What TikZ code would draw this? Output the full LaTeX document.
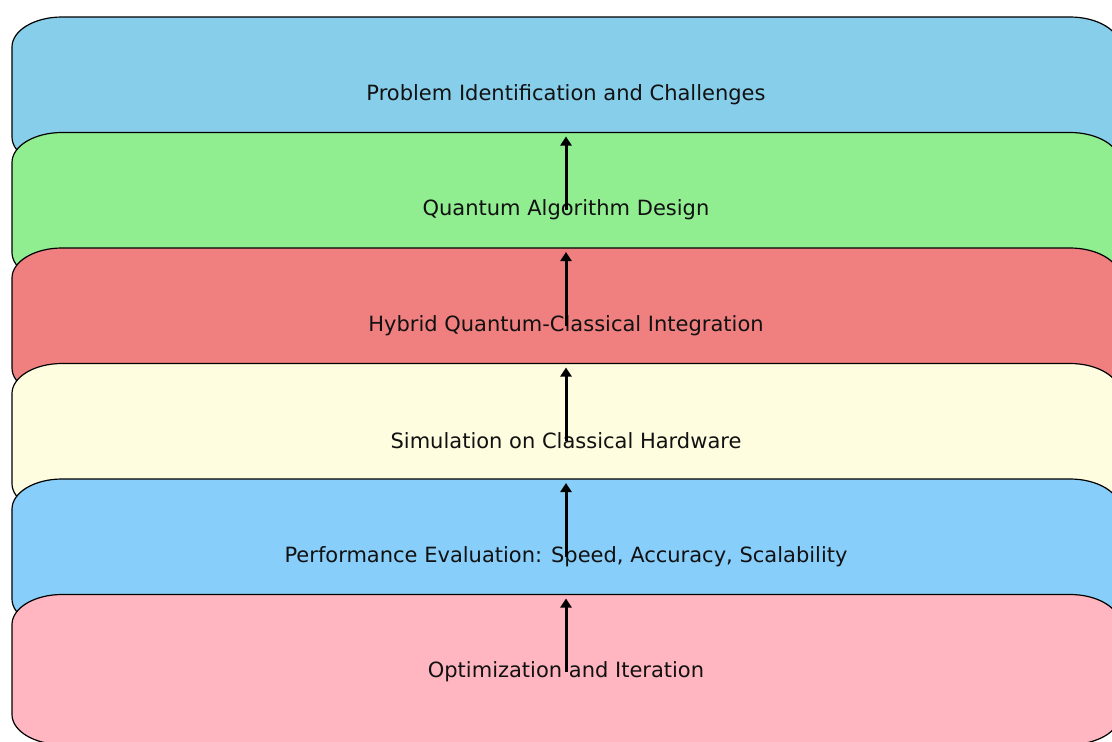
\documentclass[tikz,border=0pt]{standalone}
\usepackage{fontspec}
\setmainfont{DejaVu Sans}
\usetikzlibrary{arrows.meta,calc}
\definecolor{cskyblue}{HTML}{87CEEB}
\definecolor{clightgreen}{HTML}{90EE90}
\definecolor{clightcoral}{HTML}{F08080}
\definecolor{clightyellow}{HTML}{FFFDE0}
\definecolor{clightskyblue}{HTML}{87CEFA}
\definecolor{clightpink}{HTML}{FFB6C1}
\definecolor{ctext}{HTML}{111111}
\tikzset{
  boxframe/.style={draw=none,minimum width=1108pt,minimum height=150pt,inner sep=0pt,outer sep=0pt},
  boxline/.style={draw=black,line width=1.2pt},
  boxlabel/.style={text=ctext,font=\fontsize{21pt}{24pt}\selectfont,inner sep=0pt},
  uparrow/.style={-{Triangle[width=11pt,length=9pt]},line width=3pt,black},
}
\newcommand\stagebox[4]{%
  \node[boxframe] (#1) at (566,#2) {};
  \draw[boxline,fill=#3] let \p1=(#1.north west), \p2=(#1.south east) in
    (\x1,\y2+30pt) -- (\x1,\y1-30pt)
    arc[start angle=180,end angle=90,x radius=50pt,y radius=30pt]
    -- (\x2-50pt,\y1)
    arc[start angle=90,end angle=0,x radius=50pt,y radius=30pt]
    -- (\x2,\y2+30pt)
    arc[start angle=0,end angle=-90,x radius=50pt,y radius=30pt]
    -- (\x1+50pt,\y2)
    arc[start angle=-90,end angle=-180,x radius=50pt,y radius=30pt]
    -- cycle;
  \node[boxlabel] (#1t) at ([yshift=-2.5pt]#1.center) {#4};
}
\begin{document}
\begin{tikzpicture}[x=1pt,y=1pt]
\useasboundingbox (0,0) rectangle (1112,-742);
\clip (0,0) rectangle (1112,-742);
\fill[white] (0,0) rectangle (1112,-742);
\stagebox{b1}{-92}{cskyblue}{Problem Identification and Challenges}
\stagebox{b2}{-207.5}{clightgreen}{Quantum Algorithm Design}
\stagebox{b3}{-323}{clightcoral}{Hybrid Quantum-Classical Integration}
\stagebox{b4}{-438.5}{clightyellow}{Simulation on Classical Hardware}
\stagebox{b5}{-554}{clightskyblue}{Performance Evaluation: Speed, Accuracy, Scalability}
\stagebox{b6}{-669.5}{clightpink}{Optimization and Iteration}
\foreach \k in {2,...,6}{
  \draw[uparrow] (b\k t.center) -- ([yshift=-4pt]b\k.north);
}
\end{tikzpicture}
\end{document}
